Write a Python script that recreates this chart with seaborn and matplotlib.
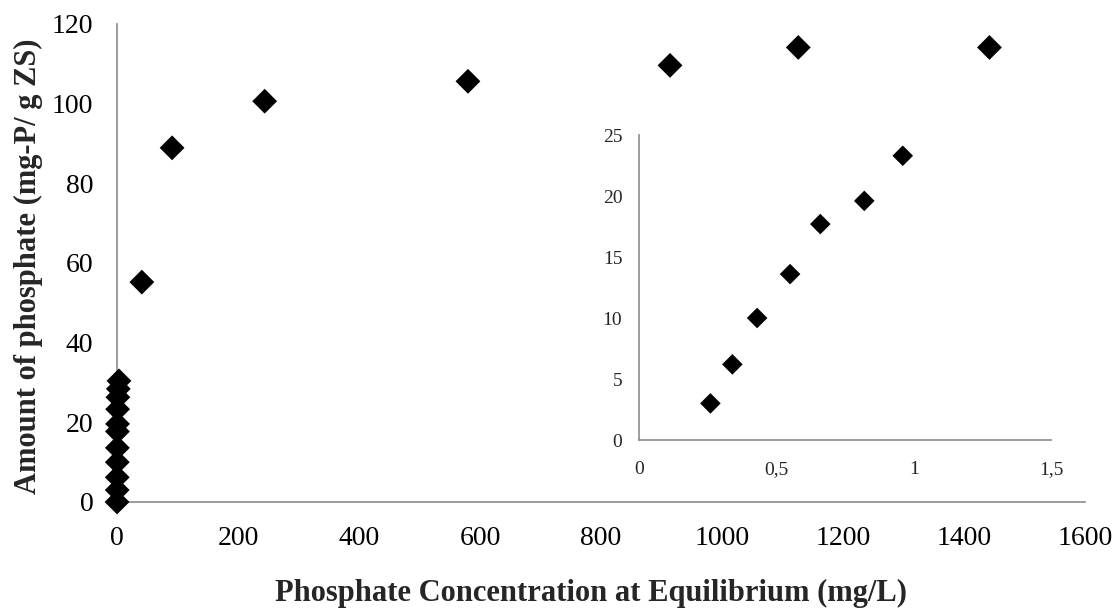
import matplotlib
matplotlib.use("Agg")
import matplotlib.pyplot as plt
import seaborn as sns
import pandas as pd

# Main series (mg/L, mg-P/g ZS)
main_x = [0, 0.26, 0.34, 0.43, 0.55, 0.66, 0.82, 0.96, 1.4, 2.1, 3.2,
          41, 91, 244, 580, 914, 1126, 1442]
main_y = [0, 3.0, 6.2, 10.0, 13.6, 17.7, 19.6, 23.3, 26.3, 28.4, 30.4,
          55.2, 88.9, 100.6, 105.6, 109.6, 114.1, 114.1]

# Inset (low-concentration range)
inset_x = [0.26, 0.34, 0.43, 0.55, 0.66, 0.82, 0.96]
inset_y = [3.0, 6.2, 10.0, 13.6, 17.7, 19.6, 23.3]

main_xticks = [0, 200, 400, 600, 800, 1000, 1200, 1400, 1600]
main_yticks = [0, 20, 40, 60, 80, 100, 120]
inset_xticks = [0, 0.5, 1, 1.5]
inset_xticklabels = ["0", "0,5", "1", "1,5"]
inset_yticks = [0, 5, 10, 15, 20, 25]

xlabel = "Phosphate Concentration at Equilibrium (mg/L)"
ylabel = "Amount of phosphate (mg-P/ g ZS)"

sns.set_style("white")
plt.rcParams["font.family"] = ["Liberation Serif", "DejaVu Serif"]

spine_col = "#8c8c8c"

fig = plt.figure(figsize=(11.2, 6.09), dpi=100)
ax = fig.add_axes([0.1045, 0.1757, 0.8643, 0.785])

df_main = pd.DataFrame({"x": main_x, "y": main_y})
sns.scatterplot(data=df_main, x="x", y="y", ax=ax, marker="D", s=160,
                color="black", edgecolor="none", linewidth=0, clip_on=False, zorder=3)
ax.set_xlim(0, 1600)
ax.set_ylim(0, 120)
ax.set_xticks(main_xticks)
ax.set_yticks(main_yticks)
ax.tick_params(axis="both", length=0, pad=17, labelsize=20, colors="black")
for s in ["top", "right"]:
    ax.spines[s].set_visible(False)
for s in ["left", "bottom"]:
    ax.spines[s].set_color(spine_col)
    ax.spines[s].set_linewidth(1.2)
ax.set_xlabel(xlabel, fontsize=22, fontweight="bold")
ax.set_ylabel(ylabel, fontsize=22, fontweight="bold")
ax.xaxis.set_label_coords(0.49, -0.192)
ax.yaxis.set_label_coords(-0.092, 0.494)
ax.xaxis.label.set_va("center")
ax.yaxis.label.set_va("center")

axi = fig.add_axes([0.5705, 0.2775, 0.368, 0.5008])
df_in = pd.DataFrame({"x": inset_x, "y": inset_y})
sns.scatterplot(data=df_in, x="x", y="y", ax=axi, marker="D", s=110,
                color="black", edgecolor="none", linewidth=0, clip_on=False, zorder=3)
axi.set_xlim(0, 1.5)
axi.set_ylim(0, 25)
axi.set_xticks(inset_xticks)
axi.set_xticklabels(inset_xticklabels)
axi.set_yticks(inset_yticks)
axi.tick_params(axis="x", length=0, pad=15, labelsize=14)
axi.tick_params(axis="y", length=0, pad=12, labelsize=14)
axi.set_xlabel("")
axi.set_ylabel("")
for s in ["top", "right"]:
    axi.spines[s].set_visible(False)
for s in ["left", "bottom"]:
    axi.spines[s].set_color(spine_col)
    axi.spines[s].set_linewidth(1.2)

fig.savefig("out.png", dpi=100)
